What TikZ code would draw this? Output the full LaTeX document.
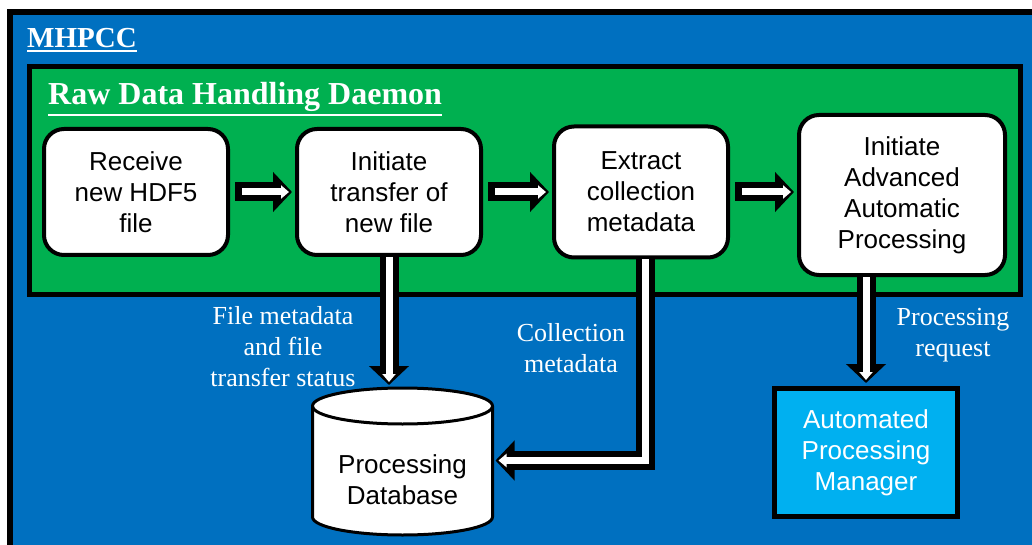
\documentclass[tikz,border=0pt]{standalone}
\usepackage{fontspec}
\setmainfont{Liberation Serif}
\setsansfont{Liberation Sans}
\usepackage{tikz}
\usetikzlibrary{positioning,arrows.meta}
\definecolor{mhblue}{HTML}{0070C0}
\definecolor{daemongreen}{HTML}{00B050}
\definecolor{mgrcyan}{HTML}{00B0F0}
\newcommand{\headline}[1]{\vtop{\hbox{#1}\kern1.5pt\hrule height 2.5pt}}

\begin{document}
\begin{tikzpicture}[x=1pt,y=1pt,font=\sffamily\fontsize{26}{31}\selectfont,
    flow/.style 2 args={draw=white,line width=7pt,-{Triangle[length=8pt,width=13pt]},
      shorten <=#2,shorten >=6pt,
      preaction={draw=black,line width=19pt,-{Triangle[length=19pt,width=39pt]},
        shorten <=#1,shorten >=3pt}}]
  \tikzstyle{stepbox}=[draw,line width=4pt,rounded corners=20pt,fill=white,
    minimum width=184pt,minimum height=126pt,align=center,inner sep=2pt]
  \tikzstyle{note}=[text=white,align=center,font=\rmfamily\fontsize{26}{31}\selectfont]
  \useasboundingbox (0,0) rectangle (1032,544);
  % frames
  \draw[line width=6pt,fill=mhblue] (10,-20) rectangle (1060,531.5);
  \draw[line width=5pt,fill=daemongreen] (29,249.5) rectangle (1020.5,477.5);
  \node[anchor=base west,inner sep=0pt,text=white,
    font=\rmfamily\bfseries\fontsize{29}{34}\selectfont] (site) at (27,496) {\headline{MHPCC}};
  \node[anchor=base west,inner sep=0pt,text=white,
    font=\rmfamily\bfseries\fontsize{32}{38}\selectfont] (daemon) at (48,439) {\headline{Raw Data Handling Daemon}};
  % daemon steps
  \node[stepbox] (b1) at (136,352) {Receive\\new HDF5\\file};
  \node[stepbox,right=65pt of b1] (b2) {Initiate\\transfer of\\new file};
  \node[stepbox,right=69pt of b2,minimum width=174pt,minimum height=131pt] (b3) {Extract\\collection\\metadata};
  \node[stepbox,right=67pt of b3,yshift=-3pt,minimum width=206pt,minimum height=160pt] (b4)
    {Initiate\\Advanced\\Automatic\\Processing};
  % database cylinder, body first and the text on top
  \node[minimum width=180pt,minimum height=111pt,inner sep=0pt,outer sep=0pt] (db) at (402.5,64.5) {};
  \draw[line width=3pt,fill=white] ([yshift=18pt]db.north west) -- ([yshift=18pt]db.south west)
    arc[start angle=180,end angle=360,x radius=90pt,y radius=18pt]
    -- ([yshift=18pt]db.north east)
    arc[start angle=0,end angle=180,x radius=90pt,y radius=18pt] -- cycle;
  \draw[line width=3pt] ([yshift=18pt]db.north west)
    arc[start angle=180,end angle=360,x radius=90pt,y radius=18pt];
  \node[align=center] (dbtext) at (db) {Processing\\Database};
  \coordinate (dbtop) at ([yshift=36pt]db.north);
  \node[draw,line width=5pt,fill=mgrcyan,text=white,align=center,
    minimum width=183pt,minimum height=128pt] (apm) at (866,91.5) {Automated\\Processing\\Manager};
  % flows
  \draw[flow={5pt}{12pt}] (b1) -- (b2);
  \draw[flow={5pt}{12pt}] (b2) -- (b3);
  \draw[flow={5pt}{12pt}] (b3.east) -- (b4.west |- b3.east);
  \draw[flow={0pt}{0pt}] (b2.south) -- (b2.south |- dbtop);
  \draw[flow={0pt}{0pt}] ([xshift=4pt]b3.south) |- ([yshift=19pt]db.east);
  \draw[flow={0pt}{0pt}] (apm.north |- b4.south) -- (apm.north);
  \node[note] (lblfile) at (283,197) {File metadata\\and file\\transfer status};
  \node[note] (lblcoll) at (571,195.5) {Collection\\metadata};
  \node[note] (lblreq) at (953,209) {Processing\\request};
\end{tikzpicture}
\end{document}
